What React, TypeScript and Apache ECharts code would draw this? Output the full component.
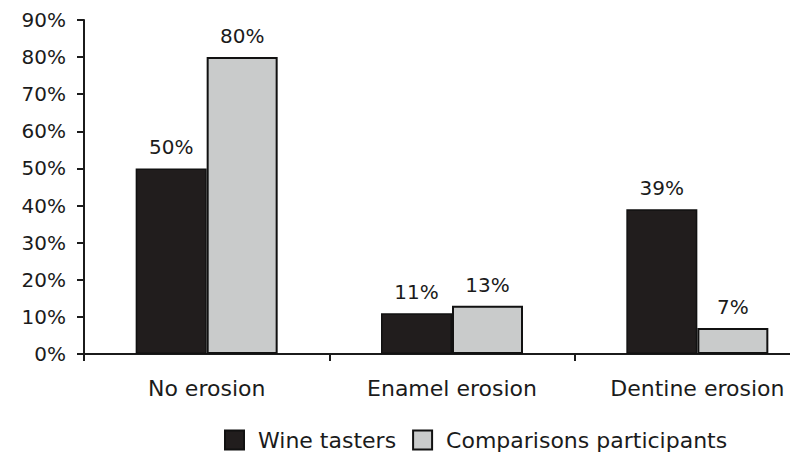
import React, { useEffect, useRef } from "react";
import * as echarts from "echarts";

// Share of participants by erosion outcome
const categories = ["No erosion", "Enamel erosion", "Dentine erosion"];
const wineTasters = [50, 11, 39];
const comparisonParticipants = [80, 13, 7];
const seriesNames = ["Wine tasters", "Comparisons participants"];
const yMax = 90;
const yStep = 10;

const FONT = "DejaVu Sans";
const INK = "#1b1b1b";

export default function App() {
  const ref = useRef<HTMLDivElement>(null);

  useEffect(() => {
    if (!ref.current) return;
    const chart = echarts.init(ref.current, undefined, { renderer: "svg" });

    const label = {
      show: true,
      position: "top" as const,
      distance: 11,
      formatter: "{c}%",
      color: INK,
      fontFamily: FONT,
      fontSize: 20,
    };

    chart.setOption({
      animation: false,
      backgroundColor: "#ffffff",
      grid: { left: 84, top: 20, width: 736, height: 334, containLabel: false },
      legend: {
        left: 219,
        top: 424,
        itemWidth: 19,
        itemHeight: 19,
        itemGap: 16,
        icon: "rect",
        textStyle: {
          color: INK,
          fontFamily: FONT,
          fontSize: 22,
          padding: [0, 0, 0, 9],
        },
        data: seriesNames,
      },
      xAxis: {
        type: "category",
        data: categories,
        axisLine: { lineStyle: { color: INK, width: 2 } },
        axisTick: { show: true, length: 7, lineStyle: { color: INK, width: 2 } },
        axisLabel: { color: INK, fontFamily: FONT, fontSize: 22, margin: 23 },
      },
      yAxis: {
        type: "value",
        min: 0,
        max: yMax,
        interval: yStep,
        splitLine: { show: false },
        axisLine: { show: true, lineStyle: { color: INK, width: 2 } },
        axisTick: { show: true, length: 7, lineStyle: { color: INK, width: 2 } },
        axisLabel: {
          formatter: "{value}%",
          color: INK,
          fontFamily: FONT,
          fontSize: 20,
          margin: 18,
        },
      },
      series: [
        {
          name: seriesNames[0],
          type: "bar",
          data: wineTasters,
          barWidth: 71,
          barGap: "0%",
          itemStyle: { color: "#211d1d", borderColor: "#111111", borderWidth: 1.5 },
          label,
        },
        {
          name: seriesNames[1],
          type: "bar",
          data: comparisonParticipants,
          barWidth: 71,
          barGap: "0%",
          itemStyle: { color: "#c9cbcb", borderColor: "#111111", borderWidth: 2 },
          label,
        },
      ],
    });

    return () => chart.dispose();
  }, []);

  // The plot runs past the right edge; the frame clips it at 790px.
  return (
    <div
      style={{
        position: "fixed",
        left: 0,
        top: 0,
        width: 790,
        height: 453,
        overflow: "hidden",
        background: "#fff",
      }}
    >
      <div ref={ref} style={{ width: 840, height: 453 }} />
    </div>
  );
}
